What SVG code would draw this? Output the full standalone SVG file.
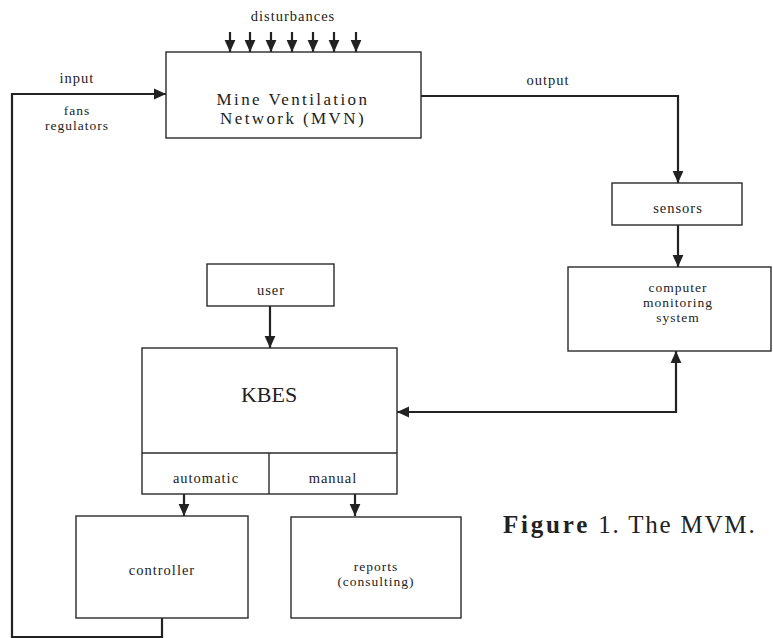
<svg xmlns="http://www.w3.org/2000/svg" width="773" height="638" viewBox="0 0 773 638">
<style>
.box{fill:none;stroke:#2a2a2a;stroke-width:1.4}
.ln{fill:none;stroke:#222;stroke-width:2.2}
text{font-family:'Liberation Serif','Times New Roman','DejaVu Serif',serif;fill:#222;text-anchor:middle}
.s{font-size:14.5px;letter-spacing:1px}
.m{font-size:13.5px;letter-spacing:1px}
</style>
<defs>
<marker id="ah" markerUnits="userSpaceOnUse" markerWidth="12" markerHeight="12" viewBox="0 0 10 10" refX="10" refY="5" orient="auto-start-reverse">
<path d="M0,0.5 L10,5 L0,9.5 Z" fill="#222"/>
</marker>
</defs>
<rect width="773" height="638" fill="#fff"/>
<g id="connectors">
<path class="ln" d="M230,32 V52" marker-end="url(#ah)"/>
<path class="ln" d="M250,32 V52" marker-end="url(#ah)"/>
<path class="ln" d="M271,32 V52" marker-end="url(#ah)"/>
<path class="ln" d="M292,32 V52" marker-end="url(#ah)"/>
<path class="ln" d="M313,32 V52" marker-end="url(#ah)"/>
<path class="ln" d="M334,32 V52" marker-end="url(#ah)"/>
<path class="ln" d="M356,32 V52" marker-end="url(#ah)"/>
<path class="ln" d="M421,96 H678 V183" marker-end="url(#ah)"/>
<path class="ln" d="M678,225 V267" marker-end="url(#ah)"/>
<path class="ln" d="M676,351 V412 H397" marker-start="url(#ah)" marker-end="url(#ah)"/>
<path class="ln" d="M270,306 V348" marker-end="url(#ah)"/>
<path class="ln" d="M184,494 V516" marker-end="url(#ah)"/>
<path class="ln" d="M355,494 V516" marker-end="url(#ah)"/>
<path class="ln" d="M162,618 V637 H12 V94 H166" marker-end="url(#ah)"/>
</g>
<g id="labels">
<text class="s" x="293" y="21">disturbances</text>
<text class="s" x="77" y="83">input</text>
<text class="m" x="77" y="115">fans</text>
<text class="m" x="77" y="130">regulators</text>
<text class="s" x="548" y="85">output</text>
</g>
<g id="mvn">
<rect class="box" x="166" y="52" width="255" height="86"/>
<text x="293" y="105" font-size="17" letter-spacing="2.4">Mine Ventilation</text>
<text x="293" y="124" font-size="17" letter-spacing="2.4">Network (MVN)</text>
</g>
<g id="sensors">
<rect class="box" x="612" y="183" width="130" height="42"/>
<text class="s" x="678" y="213">sensors</text>
</g>
<g id="cms">
<rect class="box" x="568" y="267" width="203" height="84"/>
<text class="m" x="678" y="292">computer</text>
<text class="m" x="678" y="307">monitoring</text>
<text class="m" x="678" y="322">system</text>
</g>
<g id="user">
<rect class="box" x="207" y="264" width="127" height="42"/>
<text class="s" x="271" y="295">user</text>
</g>
<g id="kbes">
<rect class="box" x="142" y="348" width="255" height="146"/>
<path class="box" d="M142,453 H397 M269,453 V494"/>
<text x="269" y="402" font-size="22">KBES</text>
<text class="s" x="206" y="483">automatic</text>
<text class="s" x="333" y="483">manual</text>
</g>
<g id="controller">
<rect class="box" x="76" y="516" width="172" height="102"/>
<text class="s" x="162" y="575">controller</text>
</g>
<g id="reports">
<rect class="box" x="291" y="517" width="170" height="101"/>
<text class="m" x="376" y="571">reports</text>
<text class="m" x="376" y="586">(consulting)</text>
</g>
<g id="caption">
<text x="503" y="533" font-size="25" style="text-anchor:start" letter-spacing="1.8"><tspan font-weight="bold" letter-spacing="2.8">Figure</tspan> 1. The MVM.</text>
</g>
</svg>
